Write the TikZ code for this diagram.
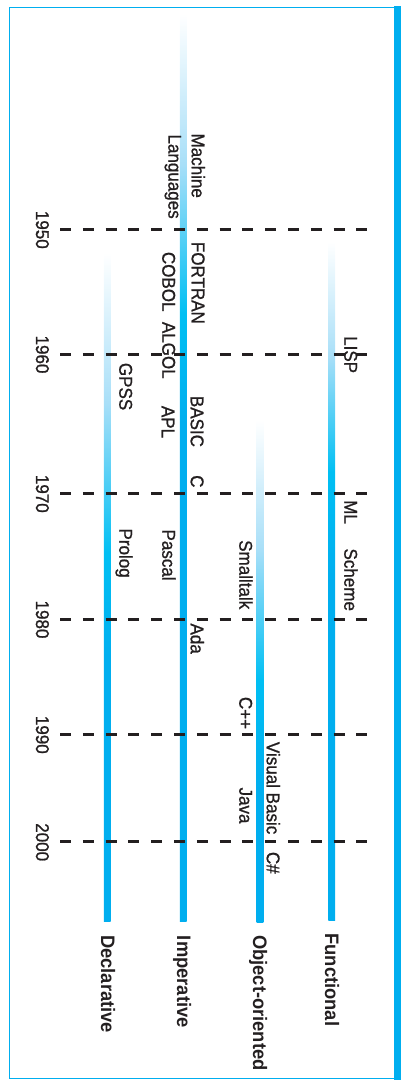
\documentclass[tikz,border=0pt]{standalone}
\usepackage{fontspec}
\newfontfamily\labfont{Liberation Sans}[FakeStretch=0.92, FakeBold=1]
\newfontfamily\catfont{Liberation Sans Bold}[FakeStretch=0.94]
\definecolor{cyanA}{HTML}{00AEEF}
\definecolor{cyanB}{HTML}{00BFF3}
\definecolor{cyanM}{HTML}{A8DFF8}
\definecolor{dashC}{HTML}{231F20}
\pgfdeclareverticalshading{shDecl}{100bp}{color(0bp)=(cyanA); color(44.34bp)=(cyanA); color(52.57bp)=(cyanB); color(63.78bp)=(cyanM); color(75bp)=(white); color(100bp)=(white)}
\pgfdeclareverticalshading{shImp}{100bp}{color(0bp)=(cyanA); color(52.42bp)=(cyanA); color(58.47bp)=(cyanB); color(66.74bp)=(cyanM); color(75bp)=(white); color(100bp)=(white)}
\pgfdeclareverticalshading{shOO}{100bp}{color(0bp)=(cyanA); color(38.20bp)=(cyanA); color(49.14bp)=(cyanB); color(62.07bp)=(cyanM); color(75bp)=(white); color(100bp)=(white)}
\pgfdeclareverticalshading{shFun}{100bp}{color(0bp)=(cyanA); color(49.95bp)=(cyanA); color(58.06bp)=(cyanB); color(66.53bp)=(cyanM); color(75bp)=(white); color(100bp)=(white)}
\tikzset{
  lbl/.style={rotate=-90, anchor=base west, inner sep=0pt, text=dashC,
    font=\labfont\fontsize{18.5}{22}\selectfont},
  yearlbl/.style={rotate=-90, anchor=base, inner sep=0pt, text=dashC,
    font=\labfont\fontsize{18.5}{22}\selectfont},
  catlbl/.style={rotate=-90, anchor=base west, inner sep=0pt, text=dashC,
    font=\catfont\fontsize{19.5}{23}\selectfont},
  yearline/.style={dashC, line width=3pt, dash pattern=on 11pt off 11.8pt},
}
\begin{document}
\begin{tikzpicture}[x=1pt, y=-1pt]
\useasboundingbox (0,0) rectangle (411,1088);
% frame
\draw[cyanA, line width=1.3pt] (394,7.3) -- (9.4,7.3) -- (9.4,1078.3) -- (394,1078.3);
\fill[cyanA] (394,6) rectangle (401,1080);
% bars
\shade[shading=shDecl] (103.9,253) rectangle (110.7,921.7);
\shade[shading=shImp] (179.9,14) rectangle (186.7,921.7);
\shade[shading=shOO] (256.6,420) rectangle (263.4,922.7);
\shade[shading=shFun] (328.3,242) rectangle (335.1,920.7);
% year lines
\foreach \yy/\lab in {229.3/1950, 354/1960, 493.3/1970, 619/1980, 734.3/1990, 841.7/2000}{
  \coordinate (s\lab) at (60,\yy);
  \coordinate (e\lab) at (367,\yy);
  \draw[yearline] (s\lab) -- (e\lab);
  \node[yearlbl] (y\lab) at (36,\yy+0.5) {\lab};
}
% language labels
\node[lbl] (machine) at (191.7,133.3) {Machine};
\node[lbl] (languages) at (168.4,134.3) {Languages};
\node[lbl] (fortran) at (191.7,241.7) {FORTRAN};
\node[lbl] (cobol) at (162.3,251.7) {COBOL};
\node[lbl] (algol) at (162.3,321.7) {ALGOL};
\node[lbl] (lisp) at (344.3,336) {LISP};
\node[lbl] (gpss) at (119.3,362.7) {GPSS};
\node[lbl] (basic) at (190.7,395.7) {BASIC};
\node[lbl] (apl) at (161.7,405.7) {APL};
\node[lbl] (c) at (190.7,475) {C};
\node[lbl] (ml) at (344.3,500) {ML};
\node[lbl] (scheme) at (344.3,548.3) {Scheme};
\node[lbl] (pascal) at (162.3,529.3) {Pascal};
\node[lbl] (prolog) at (119.3,528.3) {Prolog};
\node[lbl] (smalltalk) at (239.3,540) {Smalltalk};
\node[lbl] (ada) at (190.7,623.3) {Ada};
\node[lbl] (cpp) at (239.3,696.7) {C++};
\node[lbl] (vb) at (266.7,741.7) {Visual Basic};
\node[lbl] (csharp) at (266.7,851.7) {C\#};
\node[lbl] (java) at (239.3,787.3) {Java};
% category labels
\node[catlbl] (declarative) at (101,935) {Declarative};
\node[catlbl] (imperative) at (177,935.7) {Imperative};
\node[catlbl] (oo) at (253,935) {Object-oriented};
\node[catlbl] (functional) at (325,933.3) {Functional};
\end{tikzpicture}
\end{document}
